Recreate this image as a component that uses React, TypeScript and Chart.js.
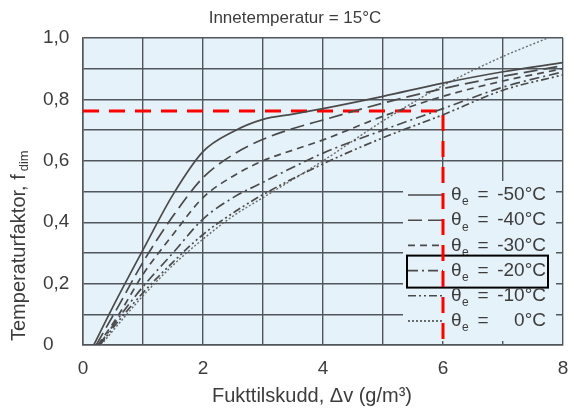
import React, { useEffect, useRef } from 'react';
import { Chart, registerables } from 'chart.js';

Chart.register(...registerables);

// ---- Data ----
const titleText = 'Innetemperatur = 15°C';
const xAxisTitle = 'Fukttilskudd, \u0394v (g/m\u00B3)';
const yAxisTitleMain = 'Temperaturfaktor, f';
const yAxisTitleSub = 'dim';

const seriesLabels = ['-50°C', '-40°C', '-30°C', '-20°C', '-10°C', '0°C'];
const highlightedSeries = '-20°C';

const xM50 = [0.18, 0.5, 1, 1.5, 2, 2.5, 3, 3.5, 4, 5, 6, 7, 8];
const yM50 = [0, 0.125, 0.31, 0.49, 0.63, 0.695, 0.735, 0.752, 0.77, 0.81, 0.853, 0.89, 0.92];

const xM40 = [0.22, 0.6, 1, 1.5, 2, 2.5, 3, 3.5, 4, 5, 6, 7, 8];
const yM40 = [0, 0.13, 0.27, 0.42, 0.545, 0.62, 0.67, 0.705, 0.733, 0.788, 0.835, 0.875, 0.91];

const xM30 = [0.25, 0.6, 1, 1.5, 2, 2.5, 3, 3.5, 4, 5, 6, 7, 8];
const yM30 = [0, 0.1, 0.23, 0.36, 0.48, 0.55, 0.6, 0.635, 0.668, 0.745, 0.81, 0.86, 0.9];

const xM20 = [0.27, 0.6, 1, 1.5, 2, 2.5, 3, 4, 5, 6, 7, 8];
const yM20 = [0, 0.09, 0.19, 0.3, 0.41, 0.48, 0.53, 0.625, 0.7, 0.77, 0.84, 0.89];

const xM10 = [0.28, 0.6, 1, 1.5, 2, 2.5, 3, 4, 5, 6, 7, 8];
const yM10 = [0, 0.08, 0.17, 0.27, 0.36, 0.43, 0.49, 0.59, 0.675, 0.75, 0.83, 0.88];

const xP0 = [0.3, 0.6, 1, 1.5, 2, 2.5, 3, 4, 5, 6, 7, 7.75];
const yP0 = [0, 0.07, 0.16, 0.26, 0.345, 0.42, 0.48, 0.6, 0.73, 0.845, 0.94, 1.0];

const refX = [0, 6, 6];
const refY = [0.762, 0.762, 0];

const xTickMin = 0;
const xTickMax = 8;
const yTickMin = 0;
const yTickMax = 1;

// ---- Styles ----
const FONT = '"Liberation Sans", Arial, Helvetica, sans-serif';
const TEXT = '#3c3c3c';
const LINE = '#4a4a4a';
const GRID = '#50565b';
const BG = '#e6f2fa';

const dashes: number[][] = [
  [],
  [14, 6],
  [7, 5],
  [10, 4, 2, 4],
  [8, 3, 2, 3, 2, 3],
  [2, 2],
];

const toPts = (xs: number[], ys: number[]) => xs.map((x, i) => ({ x, y: ys[i] }));

const bgPlugin = {
  id: 'plotBg',
  beforeDraw(chart: any) {
    const { ctx, chartArea } = chart;
    ctx.save();
    ctx.fillStyle = BG;
    ctx.fillRect(chartArea.left, chartArea.top, chartArea.right - chartArea.left, chartArea.bottom - chartArea.top);
    ctx.restore();
  },
};

const textPlugin = {
  id: 'texts',
  afterDraw(chart: any) {
    const { ctx } = chart;
    ctx.save();
    ctx.fillStyle = TEXT;
    ctx.font = `17px ${FONT}`;
    ctx.textAlign = 'center';
    ctx.textBaseline = 'middle';
    ctx.fillText(titleText, 295, 18);

    ctx.font = `20px ${FONT}`;
    ctx.fillText(xAxisTitle, 312, 396);

    // y-axis title, rotated with subscript
    ctx.translate(19, 341);
    ctx.rotate(-Math.PI / 2);
    ctx.textAlign = 'left';
    ctx.textBaseline = 'middle';
    ctx.font = `20px ${FONT}`;
    ctx.fillText(yAxisTitleMain, 0, 0);
    const w = ctx.measureText(yAxisTitleMain).width;
    ctx.font = `13px ${FONT}`;
    ctx.fillText(yAxisTitleSub, w + 3, 5);
    ctx.restore();
  },
};

const legendPlugin = {
  id: 'innerLegend',
  beforeDatasetsDraw(chart: any) {
    const { ctx, chartArea } = chart;
    const x0 = chartArea.right - 160;
    const y0 = chartArea.top + 143;
    const h = chartArea.bottom - 4 - y0;
    ctx.save();
    ctx.fillStyle = BG;
    ctx.fillRect(x0, y0, 153, h);
    const rowH = 25.2;
    const firstY = y0 + 14;
    chart.data.datasets.slice(0, seriesLabels.length).forEach((ds: any, i: number) => {
      const cy = firstY + i * rowH;
      ctx.strokeStyle = LINE;
      ctx.lineWidth = 1.6;
      ctx.setLineDash(ds.borderDash || []);
      ctx.beginPath();
      ctx.moveTo(x0 + 5, cy);
      ctx.lineTo(x0 + 40, cy);
      ctx.stroke();
      ctx.setLineDash([]);
      ctx.fillStyle = TEXT;
      ctx.textBaseline = 'middle';
      ctx.font = `19px ${FONT}`;
      ctx.textAlign = 'left';
      ctx.fillText('\u03B8', x0 + 48, cy);
      ctx.font = `12px ${FONT}`;
      ctx.fillText('e', x0 + 59, cy + 7);
      ctx.font = `19px ${FONT}`;
      ctx.textAlign = 'center';
      ctx.fillText('=', x0 + 80, cy);
      ctx.textAlign = 'right';
      ctx.fillText(ds.label, x0 + 143, cy);
      if (ds.label === highlightedSeries) {
        ctx.strokeStyle = '#000000';
        ctx.lineWidth = 2;
        ctx.strokeRect(x0 + 4, cy - 15, 141, 32);
      }
    });
    ctx.restore();
  },
};

export default function App() {
  const ref = useRef<HTMLCanvasElement | null>(null);

  useEffect(() => {
    document.body.style.margin = '0';
    if (!ref.current) return;
    const xsArr = [xM50, xM40, xM30, xM20, xM10, xP0];
    const ysArr = [yM50, yM40, yM30, yM20, yM10, yP0];
    const datasets: any[] = seriesLabels.map((label, i) => ({
      label,
      data: toPts(xsArr[i], ysArr[i]),
      borderColor: i === 5 ? '#6a6a6a' : LINE,
      borderWidth: i === 5 ? 1.4 : 1.7,
      borderDash: dashes[i],
      pointRadius: 0,
      fill: false,
      cubicInterpolationMode: 'monotone',
    }));
    datasets.push({
      label: 'ref',
      data: toPts(refX, refY),
      borderColor: '#ff0000',
      borderWidth: 3,
      borderDash: [16, 10],
      pointRadius: 0,
      fill: false,
      tension: 0,
    });

    const chart = new Chart(ref.current, {
      type: 'line',
      data: { datasets },
      options: {
        animation: false,
        responsive: false,
        devicePixelRatio: 1,
        layout: { padding: { left: 43, right: 7, top: 38, bottom: 0 } },
        plugins: {
          legend: { display: false },
          tooltip: { enabled: false },
          title: { display: false },
        },
        scales: {
          x: {
            type: 'linear',
            min: xTickMin,
            max: xTickMax,
            afterFit: (s: any) => { s.height = 63; s.paddingLeft = 0; s.paddingRight = 0; },
            ticks: {
              stepSize: 1,
              autoSkip: false,
              maxRotation: 0,
              padding: 12,
              color: TEXT,
              font: { family: FONT, size: 19 },
              callback: (v: any) => (Number(v) % 2 === 0 ? String(v) : ''),
            },
            grid: { color: GRID, lineWidth: 1.4, drawTicks: false },
            border: { color: GRID, width: 1.5 },
          },
          y: {
            type: 'linear',
            min: yTickMin,
            max: yTickMax,
            afterFit: (s: any) => { s.width = 40; s.paddingTop = 0; s.paddingBottom = 0; },
            ticks: {
              stepSize: 0.1,
              autoSkip: false,
              crossAlign: 'far',
              color: TEXT,
              font: { family: FONT, size: 19 },
              callback: (v: any) => {
                const n = Math.round(Number(v) * 10);
                if (n % 2 !== 0) return '';
                if (n === 0) return '0';
                return (n / 10).toFixed(1).replace('.', ',');
              },
            },
            grid: { color: GRID, lineWidth: 1.4, drawTicks: false },
            border: { color: GRID, width: 1.5 },
          },
        },
      },
      plugins: [bgPlugin, legendPlugin, textPlugin],
    });
    return () => chart.destroy();
  }, []);

  return (
    <div style={{ width: 570, height: 408, background: '#ffffff' }}>
      <canvas ref={ref} width={570} height={408} style={{ display: 'block' }} />
    </div>
  );
}
